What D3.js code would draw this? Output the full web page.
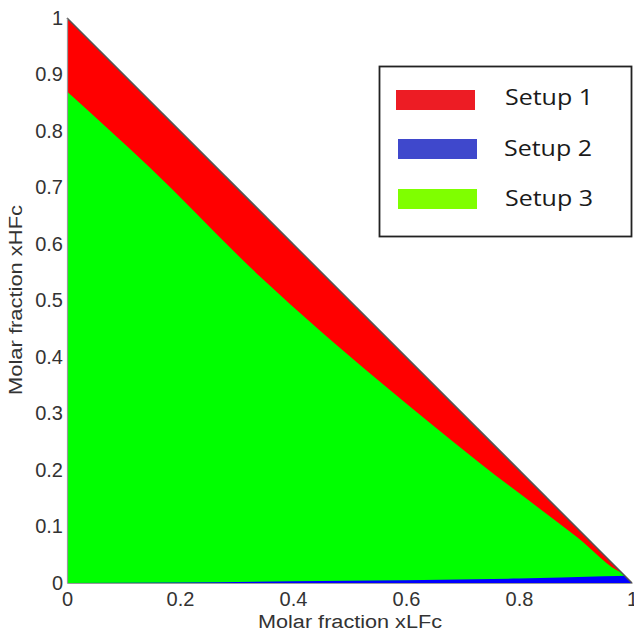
<!DOCTYPE html>
<html>
<head>
<meta charset="utf-8">
<script src="https://cdn.jsdelivr.net/npm/d3@7"></script>
<style>
  body { margin: 0; background: #fff; }
  text { font-family: "Liberation Sans", Arial, sans-serif; }
</style>
</head>
<body>
<svg id="chart" width="634" height="632"></svg>
<script>
// x positions (molar fraction xLFc) where the boundaries were read
var xs = [0, 0.147, 0.342, 0.554, 0.731, 0.903, 0.985, 1];
// upper edge of each region
var setup1Top = [1, 0.853, 0.658, 0.446, 0.269, 0.097, 0.015, 0];
var setup3Top = [0.87, 0.735, 0.542, 0.356, 0.212, 0.081, 0.017, 0.013];
var setup2X = [0, 0.2, 0.4, 0.6, 0.8, 0.95, 1];
var setup2Top = [0, 0.001, 0.003, 0.005, 0.008, 0.012, 0.013];

var legendNames = ["Setup 1", "Setup 2", "Setup 3"];
var legendColors = ["#ed1c24", "#3f48cc", "#7fff00"];
var tickVals = [0, 0.1, 0.2, 0.3, 0.4, 0.5, 0.6, 0.7, 0.8, 0.9, 1];
var xTickVals = [0, 0.2, 0.4, 0.6, 0.8, 1];

var svg = d3.select("#chart");
var x = d3.scaleLinear().domain([0, 1]).range([67, 632]);
var y = d3.scaleLinear().domain([0, 1]).range([583, 18]);

// keep every fill inside the triangle x + y <= 1
svg.append("clipPath").attr("id", "tri")
  .append("path")
  .attr("d", d3.line()([[x(0), y(0)], [x(0), y(1)], [x(1), y(0)]]) + "Z");

var plot = svg.append("g").attr("clip-path", "url(#tri)");

function band(xv, top, color) {
  var pts = xv.map(function (d, i) { return [d, top[i]]; });
  var area = d3.area()
    .curve(d3.curveMonotoneX)
    .x(function (d) { return x(d[0]); })
    .y0(y(0))
    .y1(function (d) { return y(d[1]); });
  plot.append("path").datum(pts).attr("d", area).attr("fill", color);
}

band(xs, setup1Top, "#ff0000");
band(xs, setup3Top, "#00ff00");
band(setup2X, setup2Top, "#0000ff");

// hypotenuse edge
svg.append("line")
  .attr("x1", x(0)).attr("y1", y(1))
  .attr("x2", x(1)).attr("y2", y(0))
  .attr("stroke", "#555").attr("stroke-width", 1.6);

// axes
var yAxis = d3.axisLeft(y).tickValues(tickVals).tickSize(0).tickPadding(4)
  .tickFormat(d3.format("~g"));
var xAxis = d3.axisBottom(x).tickValues(xTickVals).tickSize(0).tickPadding(9)
  .tickFormat(d3.format("~g"));

var gy = svg.append("g").attr("transform", "translate(" + x(0) + ",0)").call(yAxis);
var gx = svg.append("g").attr("transform", "translate(0," + y(0) + ")").call(xAxis);
[gx, gy].forEach(function (g) {
  g.select(".domain").attr("stroke", "#999").attr("stroke-width", 1.2);
  g.selectAll("text").attr("fill", "#333").style("font-size", "20px");
});

svg.append("text")
  .attr("x", 350).attr("y", 628)
  .attr("text-anchor", "middle")
  .attr("fill", "#333").style("font-size", "18px")
  .attr("textLength", 184).attr("lengthAdjust", "spacingAndGlyphs")
  .text("Molar fraction xLFc");

svg.append("text")
  .attr("transform", "translate(22,300) rotate(-90)")
  .attr("text-anchor", "middle")
  .attr("fill", "#333").style("font-size", "18px")
  .attr("textLength", 190).attr("lengthAdjust", "spacingAndGlyphs")
  .text("Molar fraction xHFc");

// legend
var lg = svg.append("g");
lg.append("rect")
  .attr("x", 379.5).attr("y", 66.5).attr("width", 252).attr("height", 170)
  .attr("fill", "#fff").attr("stroke", "#222").attr("stroke-width", 1.8);
var swX = [396, 398, 398];
var swY = [90, 139, 189];
var txX = [505, 504, 505];
var txY = [105, 156, 206];
legendNames.forEach(function (name, i) {
  lg.append("rect")
    .attr("x", swX[i]).attr("y", swY[i])
    .attr("width", 79).attr("height", 20)
    .attr("fill", legendColors[i]);
  lg.append("text")
    .attr("x", txX[i]).attr("y", txY[i])
    .attr("fill", "#1a1a1a")
    .style("font-family", "'Open Sans', sans-serif")
    .style("font-size", "22px")
    .attr("textLength", 88).attr("lengthAdjust", "spacingAndGlyphs")
    .text(name);
});
</script>
</body>
</html>
